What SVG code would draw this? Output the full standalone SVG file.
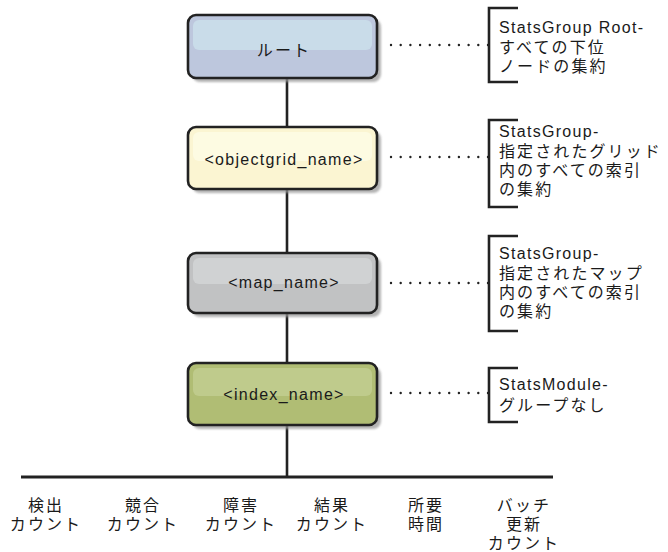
<svg xmlns="http://www.w3.org/2000/svg" width="668" height="552" viewBox="0 0 668 552">
<defs>
<style>
text{font-family:"Liberation Sans","Noto Sans CJK JP",sans-serif;font-size:16px;fill:#1a1a1a;letter-spacing:1.3px}
.j{letter-spacing:2.1px}
.c{text-anchor:middle}
.line{stroke:#222;stroke-width:2.6;fill:none}
.dots{stroke:#222;stroke-width:2.4;stroke-linecap:round;stroke-dasharray:0 9.7;fill:none}
.br{stroke:#222;stroke-width:2.6;fill:none}
.shadow{fill:#9a9a9a;opacity:0.75}
.frame{stroke:#222;stroke-width:2.6}
</style>
<filter id="blur" x="-10%" y="-10%" width="120%" height="130%"><feGaussianBlur stdDeviation="1"/></filter>
</defs>
<rect width="668" height="552" fill="#fff"/>
<g id="connectors">
<line class="line" x1="287" y1="78" x2="287" y2="477"/>
<line class="line" x1="21" y1="477" x2="553" y2="477" style="stroke-width:3"/>
<line class="dots" x1="391" y1="45" x2="488" y2="45"/>
<line class="dots" x1="391" y1="157" x2="488" y2="157"/>
<line class="dots" x1="391" y1="283" x2="488" y2="283"/>
<line class="dots" x1="391" y1="393" x2="488" y2="393"/>
</g>
<g id="root">
<rect class="shadow" x="192" y="19" width="189" height="63" rx="8" filter="url(#blur)"/>
<rect class="frame" x="188" y="15" width="189" height="63" rx="8" fill="#bdc7dd"/>
<rect x="193" y="20" width="179" height="30" rx="6" fill="#c9dce9"/>
<text class="c j" x="284" y="56">ルート</text>
</g>
<g id="objectgrid">
<rect class="shadow" x="192" y="131" width="189" height="62" rx="8" filter="url(#blur)"/>
<rect class="frame" x="188" y="127" width="189" height="62" rx="8" fill="#fbf5d2"/>
<rect x="193" y="132" width="179" height="29" rx="6" fill="#fdfbe2"/>
<text class="c" x="284" y="165">&lt;objectgrid_name&gt;</text>
</g>
<g id="map">
<rect class="shadow" x="192" y="257" width="189" height="60" rx="8" filter="url(#blur)"/>
<rect class="frame" x="188" y="253" width="189" height="60" rx="8" fill="#c1c2c3"/>
<rect x="193" y="258" width="179" height="26" rx="6" fill="#d0d2d3"/>
<text class="c" x="284" y="288">&lt;map_name&gt;</text>
</g>
<g id="index">
<rect class="shadow" x="192" y="367" width="189" height="62" rx="8" filter="url(#blur)"/>
<rect class="frame" x="188" y="363" width="189" height="62" rx="8" fill="#b0bd74"/>
<rect x="193" y="368" width="179" height="28" rx="6" fill="#bfcb8c"/>
<text class="c" x="284" y="400">&lt;index_name&gt;</text>
</g>
<g id="note-root">
<path class="br" d="M518 8 H489 V82 H518"/>
<text x="499" y="33">StatsGroup Root-</text>
<text class="j" x="499" y="53">すべての下位</text>
<text class="j" x="499" y="72">ノードの集約</text>
</g>
<g id="note-objectgrid">
<path class="br" d="M518 120 H489 V207 H518"/>
<text x="499" y="137">StatsGroup-</text>
<text class="j" x="499" y="157">指定されたグリッド</text>
<text class="j" x="499" y="176">内のすべての索引</text>
<text class="j" x="499" y="195">の集約</text>
</g>
<g id="note-map">
<path class="br" d="M518 236 H489 V331 H518"/>
<text x="499" y="259">StatsGroup-</text>
<text class="j" x="499" y="279">指定されたマップ</text>
<text class="j" x="499" y="298">内のすべての索引</text>
<text class="j" x="499" y="317">の集約</text>
</g>
<g id="note-index">
<path class="br" d="M518 368 H489 V422 H518"/>
<text x="499" y="390">StatsModule-</text>
<text class="j" x="499" y="411">グループなし</text>
</g>
<g id="labels">
<text class="c j" x="46" y="511">検出</text>
<text class="c j" x="46" y="530">カウント</text>
<text class="c j" x="143" y="511">競合</text>
<text class="c j" x="143" y="530">カウント</text>
<text class="c j" x="241" y="511">障害</text>
<text class="c j" x="241" y="530">カウント</text>
<text class="c j" x="332" y="511">結果</text>
<text class="c j" x="332" y="530">カウント</text>
<text class="c j" x="426" y="511">所要</text>
<text class="c j" x="426" y="530">時間</text>
<text class="c j" x="524" y="511">バッチ</text>
<text class="c j" x="524" y="530">更新</text>
<text class="c j" x="524" y="549">カウント</text>
</g>
</svg>
